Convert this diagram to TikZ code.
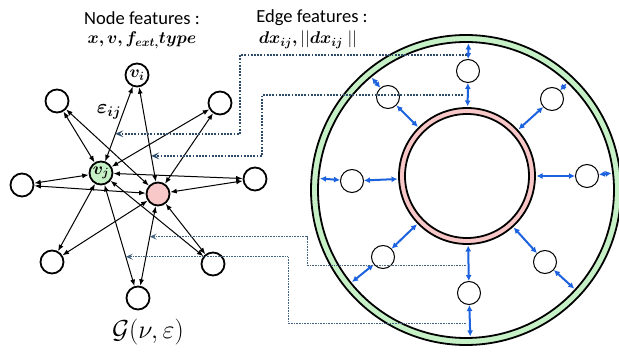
\RequirePackage{fix-cm}
\documentclass[tikz,border=0pt]{standalone}
\usepackage{amsmath}
\usepackage{bm}
\usepackage{fontspec}
\setmainfont{Carlito}
\usetikzlibrary{arrows.meta,calc}
\definecolor{ringgreen}{RGB}{198,240,198}
\definecolor{ringpink}{RGB}{248,200,200}
\definecolor{edgeblue}{RGB}{28,98,222}
\definecolor{dotdark}{RGB}{45,75,105}
\definecolor{dotlight}{RGB}{70,100,130}
\tikzset{
  gnode/.style={circle,draw=black,line width=1.8pt,fill=white,minimum size=23pt,inner sep=0pt,font=\fontsize{17}{18}\selectfont},
  gedge/.style={line width=1pt,{Latex[length=6.5pt,width=5pt]}-{Latex[length=6.5pt,width=5pt]}},
  rnode/.style={circle,draw=black,line width=1pt,fill=white,minimum size=23pt,inner sep=0pt},
  barrow/.style={edgeblue,line width=2pt,{Latex[length=6pt,width=6pt]}-{Latex[length=6pt,width=6pt]}},
  thickdot/.style={dotdark,line width=1.8pt,dash pattern=on 1.8pt off 1.4pt,-{Stealth[length=8pt,width=7pt,inset=3.5pt]}},
  thindot/.style={dotlight,line width=0.8pt,dash pattern=on 0.8pt off 0.8pt,-{Stealth[length=7pt,width=6pt,inset=3pt]}},
  lbl/.style={inner sep=0pt,font=\fontsize{18.5}{20}\selectfont}
}
\begin{document}
\begin{tikzpicture}[x=1pt,y=-1pt]
\useasboundingbox (0,0) rectangle (619,355);
% ---- rings
\coordinate (G) at (466,190);
\coordinate (P) at (467,176);
\fill[ringgreen,even odd rule] (G) circle[radius=155] (G) circle[radius=148];
\draw[line width=1.8pt] (G) circle[radius=155];
\draw[line width=1.8pt] (G) circle[radius=148];
\fill[ringpink,even odd rule] (P) circle[radius=68] (P) circle[radius=62];
\draw[line width=1.8pt] (P) circle[radius=68];
\draw[line width=1.8pt] (P) circle[radius=62];
% ---- ring particles
\node[rnode] (s1) at (468,71) {};
\node[rnode] (s2) at (388,97) {};
\node[rnode] (s3) at (552,99) {};
\node[rnode] (s4) at (352,181) {};
\node[rnode] (s5) at (587,176) {};
\node[rnode] (s6) at (383,257) {};
\node[rnode] (s7) at (469,293) {};
\node[rnode] (s8) at (545,262) {};
\foreach \s in {s1,s2,s3,s4,s5,s6,s7,s8}{
  \draw[barrow] (\s) -- ($(G)!146.5pt!(\s)$);
  \draw[barrow] (\s) -- ($(P)!69.5pt!(\s)$);
}
% ---- graph
\node[gnode] (vi) at (137,75) {$\bm{v_i}$};
\node[gnode] (ul) at (57,101) {};
\node[gnode] (ur) at (220,103) {};
\node[gnode,fill=ringgreen] (vj) at (101,173) {$\bm{v_j}$};
\node[gnode,fill=ringpink] (pk) at (158,194) {};
\node[gnode] (lf) at (22,185) {};
\node[gnode] (rt) at (255,179) {};
\node[gnode] (ll) at (52,262) {};
\node[gnode] (lr) at (213,264) {};
\node[gnode] (bt) at (138,298) {};
\foreach \o in {vi,ul,ur,lf,rt,ll,lr,bt}{
  \draw[gedge] (\o) -- (vj);
  \draw[gedge] (\o) -- (pk);
}
% ---- labels
\node[lbl] (nf) at (142,18) {Node features :};
\node[lbl,font=\fontsize{17}{18}\selectfont] (nfm) at (142,40) {$\bm{x, v, f_{ext,}type}$};
\node[lbl] (ef) at (312,18) {Edge features :};
\node[lbl,font=\fontsize{17}{18}\selectfont] (efm) at (308,40) {$\bm{dx_{ij},}||\bm{dx_{ij}}\;||$};
\node[lbl,font=\fontsize{20}{22}\selectfont] (eps) at (109,112) {$\bm{\varepsilon_{ij}}$};
\node[inner sep=0pt,font=\fontsize{26}{28}\selectfont] (gt) at (148,332) {$\mathcal{G}(\nu,\varepsilon)$};
% ---- feature connectors
\coordinate (c1) at (467,55);
\coordinate (k1) at (240,55);
\coordinate (e1) at ($(vi)!0.6!(vj)$);
\coordinate (c2) at (463,95);
\coordinate (k2) at (262,95);
\coordinate (e2) at ($(vi)!0.68!(pk)$);
\coordinate (c3) at (466,265);
\coordinate (k3) at (307,265);
\coordinate (e3) at ($(pk)!0.41!(bt)$);
\coordinate (c4) at (466,323);
\coordinate (k4) at (288,323);
\coordinate (e4) at ($(vj)!0.67!(bt)$);
\draw[thickdot] (c1) -- (k1) |- (e1);
\draw[thickdot] (c2) -- (k2) |- (e2);
\draw[thindot] (c3) -- (k3) |- (e3);
\draw[thindot] (c4) -- (k4) |- (e4);
\end{tikzpicture}
\end{document}
